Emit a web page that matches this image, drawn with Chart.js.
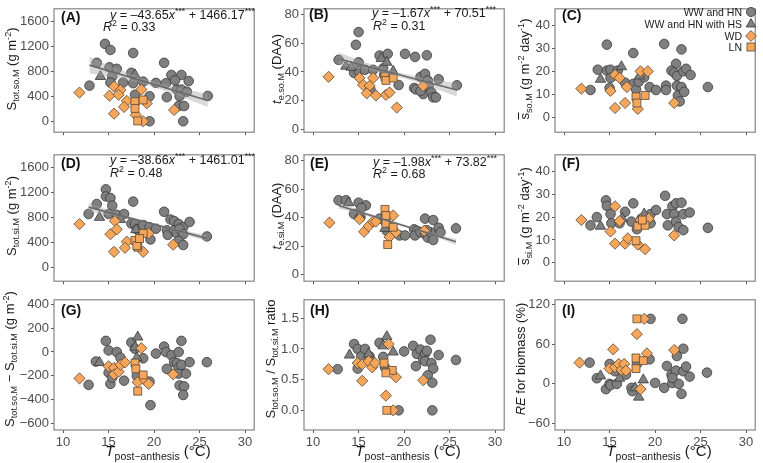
<!DOCTYPE html>
<html>
<head>
<meta charset="utf-8">
<script src="https://cdn.jsdelivr.net/npm/chart.js@4.4.0/dist/chart.umd.min.js"></script>
<style>
body { margin: 0; background: #fff; font-family: "Liberation Sans", Arial, sans-serif; }
#wrap { position: relative; width: 763px; height: 463px; overflow: hidden; }
canvas { position: absolute; }
.yt { position: absolute; white-space: nowrap; font-size: 13px; line-height: 14px; color: #1a1a1a; transform: translate(-50%, -50%) rotate(-90deg); }
.xt { position: absolute; white-space: nowrap; font-size: 15px; line-height: 16px; color: #1a1a1a; transform: translateX(-50%); top: 443px; }
.pl { position: absolute; font-weight: bold; font-size: 14px; line-height: 16px; color: #111; }
.eq { position: absolute; white-space: nowrap; font-size: 12.5px; line-height: 14px; color: #1a1a1a; }
sub, sup { font-size: 0.7em; line-height: 0; }
sub { vertical-align: -0.35em; }
sup { vertical-align: 0.55em; }
.lg { position: absolute; right: 6px; height: 12px; display: flex; align-items: center; gap: 3px; font-size: 10.5px; color: #1a1a1a; white-space: nowrap; }
.ol { display: inline-block; border-top: 1px solid #1a1a1a; line-height: 0.8em; padding-top: 1px; }
</style>
</head>
<body>
<div id="wrap">
  <!-- y axis titles -->
  <div class="yt" style="left:12px;top:69px">S<sub>tot.so.M</sub> (g m<sup>-2</sup>)</div>
  <div class="yt" style="left:277px;top:69px"><i>t</i><sub>e.so.M</sub> (DAA)</div>
  <div class="yt" style="left:525px;top:69px"><span class="ol">s</span><sub>so.M</sub> (g m<sup>-2</sup> day<sup>-1</sup>)</div>
  <div class="yt" style="left:12px;top:216px">S<sub>tot.si.M</sub> (g m<sup>-2</sup>)</div>
  <div class="yt" style="left:277px;top:216px"><i>t</i><sub>e.si.M</sub> (DAA)</div>
  <div class="yt" style="left:525px;top:216px"><span class="ol">s</span><sub>si.M</sub> (g m<sup>-2</sup> day<sup>-1</sup>)</div>
  <div class="yt" style="left:10px;top:359px">S<sub>tot.so.M</sub> &minus; S<sub>tot.si.M</sub> (g m<sup>-2</sup>)</div>
  <div class="yt" style="left:271px;top:359px">S<sub>tot.so.M</sub> / S<sub>tot.si.M</sub> ratio</div>
  <div class="yt" style="left:521px;top:359px"><i>RE</i> for biomass (%)</div>

  <!-- x axis titles -->
  <div class="xt" style="left:158px"><i>T</i><sub>post&minus;anthesis</sub> (&deg;C)</div>
  <div class="xt" style="left:408px"><i>T</i><sub>post&minus;anthesis</sub> (&deg;C)</div>
  <div class="xt" style="left:659px"><i>T</i><sub>post&minus;anthesis</sub> (&deg;C)</div>
</div>

<script>
// temperature axis, shared by all panels
const xTicks = [10, 15, 20, 25, 30];

// (A) S tot.so.M
const aCirc = [[14.6,1245],[15.2,1147],[17.7,1098],[13.7,940],[21.1,940],[15.1,867],[15.9,843],[15.4,720],[17.5,779],[12.9,573],[15.2,622],[16.6,622],[17.7,612],[18.8,637],[20.2,617],[21.3,612],[21.9,745],[23.0,745],[22.3,657],[22.5,510],[23.0,510],[22.8,402],[23.6,475],[23.8,647],[21.4,387],[19.5,402],[17.9,426],[25.9,407],[22.7,245],[23.3,245],[19.5,0],[23.2,0]];
const aTri = [[14.1,720],[17.9,745]];
const aDia = [[11.8,461],[15.1,412],[15.6,559],[16.3,500],[16.1,426],[17.0,328],[16.7,230],[15.6,122],[18.6,510],[19.2,289],[22.2,181],[18.0,100],[18.8,0]];
const aSq = [[17.9,314],[18.8,343],[17.9,206],[18.2,5]];
const aTicks = [0, 400, 800, 1200, 1600];

// (B) t e.so.M
const bCirc = [[15.0,67.8],[14.7,58.9],[12.8,48.4],[15.0,46.7],[14.5,39.4],[15.0,40.8],[15.7,41.5],[16.6,41.5],[17.3,51.4],[18.2,52.6],[17.7,42.5],[17.8,37.9],[19.4,30.9],[20.1,52.6],[21.2,50.5],[22.5,51.6],[21.8,36.6],[22.3,38.7],[22.6,34.1],[23.8,34.9],[21.1,28.8],[21.3,27.8],[22.1,24.6],[22.7,30.3],[23.0,25.7],[23.2,22.3],[23.5,22.3],[25.8,30.7],[16.3,27.8],[21.8,26.7]];
const bTri = [[13.6,44.0],[14.2,43.2],[17.5,49.3],[18.1,46.7],[18.8,40.4]];
const bDia = [[11.7,36.6],[15.1,35.8],[15.5,30.9],[16.6,35.8],[16.2,30.3],[15.9,25.1],[16.9,23.6],[18.0,24.0],[18.4,25.7],[19.2,15.2],[22.1,30.3]];
const bSq = [[17.9,36.6],[18.0,34.1],[18.8,35.8]];
const bTicks = [0, 20, 40, 60, 80];

// (C) mean s so.M
const cCirc = [[12.9,11.9],[13.7,20.8],[14.7,31.8],[14.7,20.4],[15.1,20.8],[15.1,17.2],[15.0,12.8],[15.9,20.4],[17.6,28.1],[16.7,15.1],[17.6,14.6],[17.9,12.2],[18.2,15.5],[18.8,17.5],[19.4,13.2],[20.1,11.9],[21.0,32.1],[22.9,29.7],[22.3,23.4],[21.8,20.4],[22.1,19.5],[22.4,18.1],[23.1,20.1],[23.4,21.2],[23.9,18.5],[21.2,13.8],[21.2,11.9],[22.4,13.8],[22.5,9.5],[22.7,6.9],[22.9,13.2],[23.2,11.1],[25.8,13.2]];
const cTri = [[14.0,16.6],[16.3,22.1],[18.3,18.1]];
const cDia = [[11.9,12.5],[15.1,11.5],[15.6,18.5],[16.1,17.2],[16.9,13.2],[15.6,4.0],[16.7,6.2],[18.4,20.1],[19.2,20.1],[18.1,3.6],[22.1,6.2]];
const cSq = [[17.9,8.9],[18.9,9.5],[18.0,6.2]];
const cTicks = [0, 10, 20, 30, 40];

// (D) S tot.si.M
const dCirc = [[14.7,1253],[14.7,1139],[15.2,1114],[15.4,991],[13.7,1016],[12.8,857],[15.0,857],[15.9,842],[16.7,857],[17.7,1055],[17.5,703],[17.9,694],[18.1,609],[18.8,679],[19.5,644],[20.2,619],[19.6,446],[21.1,892],[21.8,768],[22.2,743],[22.7,694],[23.2,644],[23.9,728],[21.4,594],[21.5,520],[22.2,594],[22.5,545],[22.8,619],[23.2,530],[22.7,421],[23.2,357],[25.8,495]];
const dTri = [[14.0,802],[18.0,604],[16.3,768]];
const dDia = [[11.8,694],[15.7,743],[15.2,530],[15.9,609],[17.0,411],[16.8,312],[15.6,248],[18.8,248],[19.4,545],[22.1,362]];
const dSq = [[17.9,431],[18.2,322],[18.8,545],[18.1,347],[18.4,461]];

// (E) t e.si.M
const eCirc = [[12.8,52.1],[13.6,52.1],[15.0,50.4],[15.8,48.5],[15.3,46.7],[14.5,42.5],[15.2,40.3],[17.3,39.2],[18.0,36.4],[18.5,33.2],[18.1,30.7],[18.8,30.7],[19.5,27.4],[20.1,27.4],[21.1,31.7],[21.4,30.7],[22.3,39.2],[23.2,38.2],[21.2,27.4],[21.8,29.6],[22.3,28.5],[22.6,25.9],[22.9,29.6],[23.2,24.2],[23.8,32.8],[24.0,29.6],[22.5,31.1],[25.7,32.4]];
const eTri = [[13.9,50.4],[15.1,41.3],[17.9,32.4]];
const eDia = [[11.8,36.4],[15.1,38.8],[15.6,30.0],[16.1,33.9],[16.6,37.1],[16.9,37.1],[18.1,41.0],[18.8,41.4],[18.4,26.4],[19.1,29.6],[22.2,30.7]];
const eSq = [[17.9,45.7],[18.0,36.0],[18.8,33.2],[18.2,21.0],[18.0,41.4]];

// (F) mean s si.M
const fCirc = [[12.9,16.4],[13.6,20.0],[14.6,27.3],[14.7,24.9],[15.1,21.3],[15.2,17.3],[16.1,17.3],[16.7,22.3],[17.6,26.0],[17.4,18.0],[18.0,14.7],[18.5,19.3],[18.9,17.3],[19.5,17.3],[19.5,21.3],[20.1,23.1],[21.1,29.3],[21.3,21.3],[21.4,16.4],[21.9,24.7],[22.3,26.0],[22.9,26.3],[22.1,21.3],[22.3,18.0],[22.6,15.6],[23.1,14.3],[23.1,21.3],[23.8,22.0],[25.8,15.3]];
const fTri = [[14.0,16.0],[18.8,21.3],[16.4,19.3]];
const fDia = [[11.9,18.7],[15.6,24.7],[15.1,13.7],[16.1,18.3],[15.6,8.4],[16.7,8.4],[17.0,10.7],[18.1,8.0],[18.9,6.0],[19.3,19.3],[22.1,12.0],[18.4,18.7]];
const fSq = [[18.1,16.0],[18.9,16.4],[17.9,9.7],[18.6,18.7]];

// (G) difference
const gCirc = [[12.8,-275],[13.6,-80],[14.7,93],[15.0,13],[15.9,0],[15.0,-173],[15.2,-267],[15.4,-213],[16.3,-48],[16.7,-240],[17.5,80],[17.9,27],[18.1,-200],[18.8,-53],[19.5,-248],[19.6,-445],[20.2,-13],[21.1,45],[21.3,0],[21.4,-141],[21.9,-27],[22.2,-85],[22.5,-93],[22.7,0],[23.0,93],[22.7,-133],[22.7,-181],[23.0,-107],[23.5,-181],[23.9,-85],[22.8,-280],[23.3,-288],[23.2,-360],[25.8,-85]];
const gTri = [[14.0,-88],[18.2,125],[17.9,40],[18.1,-48]];
const gDia = [[11.8,-221],[15.0,-120],[15.6,-133],[15.6,-187],[16.1,-165],[16.3,-107],[16.8,-88],[18.6,32],[18.2,-253],[19.0,-235],[19.4,-267],[22.1,-187]];
const gSq = [[17.9,-93],[18.0,-141],[18.8,-192],[18.2,-328]];
const gTicks = [-600, -400, -200, 0, 200, 400];

// (H) ratio
const hCirc = [[12.7,0.67],[14.5,1.08],[14.9,1.00],[14.9,0.68],[15.3,0.88],[15.7,1.00],[16.2,0.88],[17.3,1.10],[17.7,0.87],[17.9,0.70],[19.4,0],[20.0,0.96],[21.0,1.05],[21.4,0.92],[21.3,0.72],[21.8,0.99],[22.1,0.83],[22.3,0.92],[22.3,0.80],[22.5,0.97],[22.9,1.15],[23.0,0.77],[23.2,0.68],[23.8,0.90],[22.6,0.57],[23.1,0.45],[23.1,0],[25.7,0.82]];
const hTri = [[14.0,0.90],[16.1,0.92],[18.1,1.20],[17.7,1.05],[18.8,0.95]];
const hDia = [[11.7,0.67],[14.9,0.77],[15.4,0.75],[16.1,0.80],[16.5,0.70],[16.8,0.77],[15.4,0.48],[18.3,1.08],[19.1,0.54],[22.1,0.49],[18.0,0.24],[18.8,0]];
const hSq = [[17.8,0.77],[18.7,0.65],[18.0,0.61],[18.1,0]];
const hTicks = [0, 0.5, 1.0, 1.5];

// (I) RE for biomass
const iCirc = [[12.8,32],[13.6,8.5],[14.6,-8],[15.0,30],[15.0,0],[15.1,-2],[15.6,19],[15.8,0],[16.8,14],[17.4,-6],[17.5,-11],[18.0,30],[19.4,37],[19.5,98],[20.0,1.4],[21.0,-6],[21.3,27],[21.8,14],[21.9,1.4],[22.3,20],[22.4,42],[22.6,0],[23.1,53],[23.0,98],[22.9,-15],[23.1,19],[23.4,26],[23.8,11],[25.7,17],[21.9,9]];
const iTri = [[14.0,12],[16.1,8.5],[18.2,-20],[17.8,-6],[18.7,6]];
const iDia = [[11.7,32],[15.4,52],[15.0,23],[15.6,25],[16.0,30],[16.3,21],[16.6,30],[16.8,20],[18.0,75],[18.8,98],[18.4,-8],[19.1,46],[22.1,51]];
const iSq = [[18.0,98],[17.9,39],[17.9,23],[18.7,35]];
const iTicks = [-60, 0, 60, 120];

// fitted lines (from the printed equations) and band half-widths
const aReg = { slope: -43.65, icpt: 1466.17, x0: 12.9, x1: 25.9, bandX: [12.9, 16, 19, 22.5, 25.9], bandHalf: [135, 75, 45, 65, 105] };
const bReg = { slope: -1.67, icpt: 70.51, x0: 12.8, x1: 25.8, bandX: [12.8, 16, 19, 22.5, 25.8], bandHalf: [4.4, 2.4, 1.5, 2.6, 4.6] };
const dReg = { slope: -38.66, icpt: 1461.01, x0: 12.8, x1: 25.8, bandX: [12.8, 16, 19, 22.5, 25.8], bandHalf: [65, 35, 22, 30, 50] };
const eReg = { slope: -1.98, icpt: 73.82, x0: 12.8, x1: 25.7, bandX: [12.8, 16, 19, 22.5, 25.7], bandHalf: [2.2, 1.2, 0.8, 1.1, 2.0] };

// layout of the 3x3 grid (page pixels)
const colLeft = [54, 304, 555];
const rowTop = [1, 147, 292];
const rowH = [135, 138, 138];
const plotW = 204;
const leftSpace = 44;

const grey = '#7f7f7f', greyEdge = '#3a3a3a';
const orange = '#f5a65b', orangeEdge = '#5a4632';

function pts(arr) {
    return arr.map(p => ({ x: p[0], y: p[1] }));
}

function pointSet(arr, style, r, bg, bd) {
    return {
        data: pts(arr),
        pointStyle: style,
        pointRadius: r,
        pointBackgroundColor: bg,
        pointBorderColor: bd,
        pointBorderWidth: 0.8,
        backgroundColor: bg,
        borderColor: bd
    };
}

function regSets(reg) {
    if (!reg) return [];
    const f = x => reg.slope * x + reg.icpt;
    return [
        { data: [{ x: reg.x0, y: f(reg.x0) }, { x: reg.x1, y: f(reg.x1) }], showLine: true, pointRadius: 0,
          borderColor: '#6a6a6a', borderWidth: 1.6 },
        { data: reg.bandX.map((x, i) => ({ x: x, y: f(x) + reg.bandHalf[i] })), showLine: true, pointRadius: 0,
          borderWidth: 0, borderColor: 'rgba(0,0,0,0)', tension: 0.3, fill: '+1', backgroundColor: 'rgba(160,160,160,0.4)' },
        { data: reg.bandX.map((x, i) => ({ x: x, y: f(x) - reg.bandHalf[i] })), showLine: true, pointRadius: 0,
          borderWidth: 0, borderColor: 'rgba(0,0,0,0)', tension: 0.3 }
    ];
}

const frame = {
    id: 'frame',
    afterDraw(chart) {
        const { ctx, chartArea: a } = chart;
        ctx.save();
        ctx.strokeStyle = '#858585';
        ctx.lineWidth = 1.2;
        ctx.strokeRect(a.left, a.top, a.width, a.height);
        ctx.restore();
    }
};

function fmtNum(v) {
    return v < 0 ? '\u2212' + Math.abs(v) : String(v);
}

function makePanel(col, row, circ, tri, dia, sq, yMin, yMax, yTicks, reg, fmt) {
    const wrap = document.getElementById('wrap');
    const canvas = document.createElement('canvas');
    const bottomSpace = row === 2 ? 24 : 6;
    const w = leftSpace + plotW + 3;
    const h = rowH[row] + 2 + bottomSpace;
    canvas.width = w;
    canvas.height = h;
    canvas.style.left = (colLeft[col] - leftSpace) + 'px';
    canvas.style.top = (rowTop[row] - 2) + 'px';
    wrap.insertBefore(canvas, wrap.firstChild);

    const datasets = regSets(reg).concat([
        pointSet(sq, 'rect', 5.6, orange, orangeEdge),
        pointSet(dia, 'rectRot', 5.6, orange, orangeEdge),
        pointSet(tri, 'triangle', 6, grey, greyEdge),
        pointSet(circ, 'circle', 4.8, grey, greyEdge)
    ]);

    new Chart(canvas.getContext('2d'), {
        type: 'scatter',
        data: { datasets: datasets },
        options: {
            responsive: false,
            animation: false,
            events: [],
            layout: { padding: { top: 2, right: 3, left: 0, bottom: 0 } },
            plugins: { legend: { display: false }, tooltip: { enabled: false } },
            scales: {
                x: {
                    type: 'linear', min: 9, max: 31,
                    afterBuildTicks: s => { s.ticks = xTicks.map(v => ({ value: v })); },
                    afterFit: s => { s.height = bottomSpace; },
                    grid: { drawOnChartArea: false, drawTicks: true, tickLength: 3, color: '#555' },
                    border: { display: false },
                    ticks: { display: row === 2, color: '#4d4d4d', font: { size: 13, family: '"Liberation Sans", Arial' }, padding: 2, maxRotation: 0 }
                },
                y: {
                    type: 'linear', min: yMin, max: yMax,
                    afterBuildTicks: s => { s.ticks = yTicks.map(v => ({ value: v })); },
                    afterFit: s => { s.width = leftSpace; },
                    grid: { drawOnChartArea: false, drawTicks: true, tickLength: 3, color: '#555' },
                    border: { display: false },
                    ticks: { color: '#4d4d4d', font: { size: 13, family: '"Liberation Sans", Arial' }, padding: 2, callback: fmt || fmtNum }
                }
            }
        },
        plugins: [frame]
    });
}

makePanel(0, 0, aCirc, aTri, aDia, aSq, -176, 1809, aTicks, aReg);
makePanel(1, 0, bCirc, bTri, bDia, bSq, -2, 84, bTicks, bReg);
makePanel(2, 0, cCirc, cTri, cDia, cSq, -6.6, 47.5, cTicks, null);
makePanel(0, 1, dCirc, dTri, dDia, dSq, -225, 1808, aTicks, dReg);
makePanel(1, 1, eCirc, eTri, eDia, eSq, -4.7, 84, bTicks, eReg);
makePanel(2, 1, fCirc, fTri, fDia, fSq, -8, 47.2, cTicks, null);
makePanel(0, 2, gCirc, gTri, gDia, gSq, -653, 437, gTicks, null);
makePanel(1, 2, hCirc, hTri, hDia, hSq, -0.32, 1.80, hTicks, null, v => v.toFixed(1));
makePanel(2, 2, iCirc, iTri, iDia, iSq, -69.5, 126.7, iTicks, null);

// panel letters, equations and legend
const overlays = `
<div class="pl" style="left:61px;top:9px">(A)</div>
<div class="pl" style="left:309px;top:6px">(B)</div>
<div class="pl" style="left:562px;top:7px">(C)</div>
<div class="pl" style="left:61px;top:155px">(D)</div>
<div class="pl" style="left:310px;top:155px">(E)</div>
<div class="pl" style="left:562px;top:155px">(F)</div>
<div class="pl" style="left:61px;top:302px">(G)</div>
<div class="pl" style="left:310px;top:302px">(H)</div>
<div class="pl" style="left:562px;top:302px">(I)</div>
<div class="eq" style="left:110px;top:8px"><i>y</i> = &ndash;43.65<i>x</i><sup>***</sup> + 1466.17<sup>***</sup></div>
<div class="eq" style="left:103px;top:20px"><i>R</i><sup>2</sup> = 0.33</div>
<div class="eq" style="left:372px;top:6px"><i>y</i> = &ndash;1.67<i>x</i><sup>***</sup> + 70.51<sup>***</sup></div>
<div class="eq" style="left:373px;top:19px"><i>R</i><sup>2</sup> = 0.31</div>
<div class="eq" style="left:110px;top:153px"><i>y</i> = &ndash;38.66<i>x</i><sup>***</sup> + 1461.01<sup>***</sup></div>
<div class="eq" style="left:110px;top:166px"><i>R</i><sup>2</sup> = 0.48</div>
<div class="eq" style="left:373px;top:155px"><i>y</i> = &ndash;1.98<i>x</i><sup>***</sup> + 73.82<sup>***</sup></div>
<div class="eq" style="left:373px;top:167px"><i>R</i><sup>2</sup> = 0.68</div>
<div class="lg" style="top:6px">WW and HN <svg width="12" height="12"><circle cx="6" cy="6" r="4.6" fill="${grey}" stroke="${greyEdge}" stroke-width="0.8"/></svg></div>
<div class="lg" style="top:18px">WW and HN with HS <svg width="12" height="12"><polygon points="6,0.6 10.8,9 1.2,9" fill="${grey}" stroke="${greyEdge}" stroke-width="0.8"/></svg></div>
<div class="lg" style="top:29.5px">WD <svg width="12" height="12"><polygon points="6,0.6 11.4,6 6,11.4 0.6,6" fill="${orange}" stroke="${orangeEdge}" stroke-width="0.8"/></svg></div>
<div class="lg" style="top:41px">LN <svg width="12" height="12"><rect x="2" y="2" width="8" height="8" fill="${orange}" stroke="${orangeEdge}" stroke-width="0.8"/></svg></div>
`;
document.getElementById('wrap').insertAdjacentHTML('beforeend', overlays);
</script>
</body>
</html>
